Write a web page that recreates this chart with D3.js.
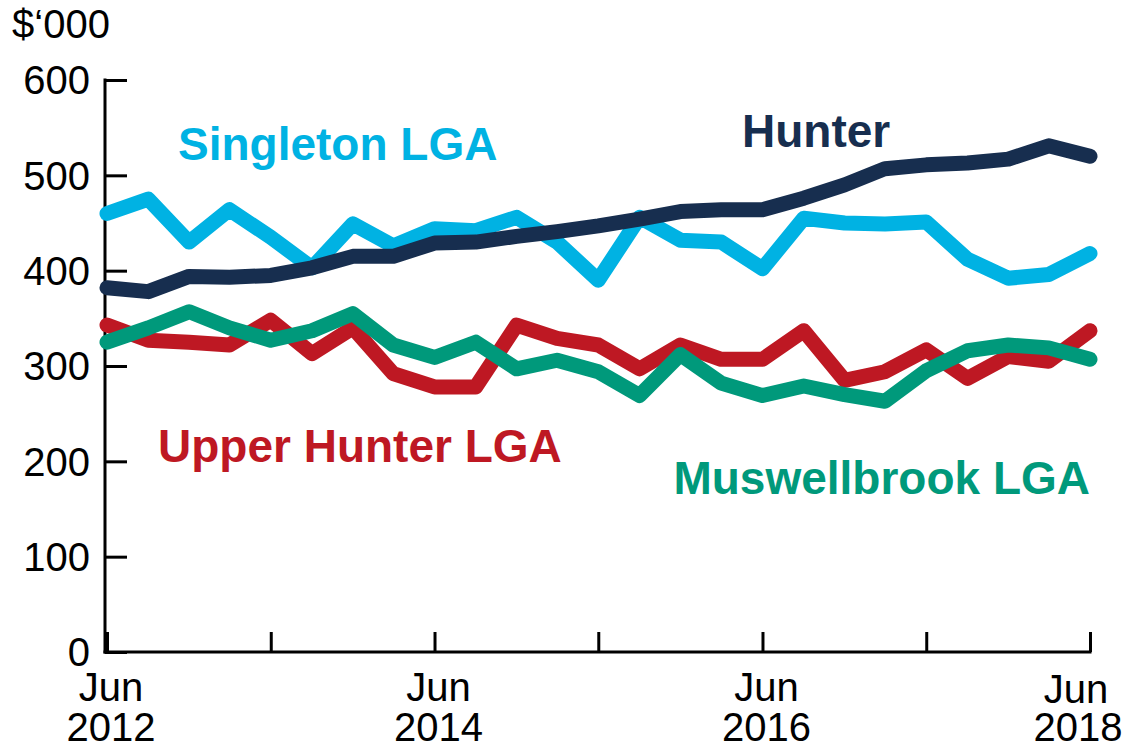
<!DOCTYPE html>
<html>
<head>
  <meta charset="utf-8">
  <title>Median house prices</title>
  <script src="https://d3js.org/d3.v7.min.js"></script>
  <style>
    body { margin: 0; background: #fff; }
    text { font-family: Arial, "Liberation Sans", sans-serif; }
  </style>
</head>
<body>
  <script>
    // quarterly, Jun 2012 .. Jun 2018
    var quarters = d3.range(25).map(function(i) { return new Date(2012, 5 + i * 3, 1); });

    var hunter      = [382, 378, 394, 393, 395, 403, 415, 415, 429, 430, 436, 441, 447, 454, 462, 464, 464, 476, 490, 507, 511, 513, 517, 531, 520];
    var singleton   = [460, 475, 430, 464, 435, 403, 449, 426, 444, 442, 456, 430, 390, 456, 432, 430, 402, 455, 450, 449, 451, 412, 392, 396, 418];
    var upperHunter = [343, 327, 325, 322, 348, 313, 340, 292, 278, 278, 343, 329, 322, 297, 322, 307, 307, 337, 285, 294, 317, 287, 310, 305, 337];
    var muswellbrook = [325, 340, 357, 340, 327, 337, 355, 322, 309, 325, 297, 306, 294, 269, 312, 282, 269, 279, 270, 263, 295, 316, 322, 319, 307];

    var yTicks = [0, 100, 200, 300, 400, 500, 600];
    var xTickYears = [2012, 2013, 2014, 2015, 2016, 2017, 2018];
    var xLabelYears = [2012, 2014, 2016, 2018];

    var series = [
      { name: 'Singleton LGA', values: singleton, color: '#00b2e3', lx: 178, ly: 143, anchor: 'start' },
      { name: 'Hunter', values: hunter, color: '#172e4f', lx: 742, ly: 130, anchor: 'start' },
      { name: 'Upper Hunter LGA', values: upperHunter, color: '#be1823', lx: 158, ly: 445, anchor: 'start' },
      { name: 'Muswellbrook LGA', values: muswellbrook, color: '#00997b', lx: 1090, ly: 477, anchor: 'end' }
    ];

    var W = 1128, H = 748;
    var plotL = 105, plotR = 1090, plotT = 80, plotB = 652;

    var svg = d3.select('body').append('svg')
      .attr('width', W)
      .attr('height', H);

    var x = d3.scaleTime()
      .domain([quarters[0], quarters[24]])
      .range([plotL + 2, plotR]);

    var y = d3.scaleLinear()
      .domain([0, 600])
      .range([plotB, plotT]);

    // y axis
    var yAxis = svg.append('g')
      .attr('transform', 'translate(' + plotL + ',0)')
      .call(d3.axisRight(y).tickValues(yTicks).tickSize(22).tickFormat(''));
    yAxis.select('.domain').remove();
    yAxis.selectAll('line').attr('stroke', '#000').attr('stroke-width', 3);

    svg.append('line')
      .attr('x1', plotL).attr('x2', plotL)
      .attr('y1', plotT - 1.5).attr('y2', plotB + 1.5)
      .attr('stroke', '#000').attr('stroke-width', 3);

    svg.selectAll('.ylab')
      .data(yTicks)
      .enter().append('text')
      .attr('class', 'ylab')
      .attr('x', 90)
      .attr('y', function(d) { return y(d); })
      .attr('dy', '0.36em')
      .attr('text-anchor', 'end')
      .attr('font-size', 40)
      .text(function(d) { return d; });

    svg.append('text')
      .attr('x', 12)
      .attr('y', 38)
      .attr('font-size', 40)
      .text('$‘000');

    // x axis
    var xAxis = svg.append('g')
      .attr('transform', 'translate(0,' + plotB + ')')
      .call(d3.axisTop(x)
        .tickValues(xTickYears.map(function(yr) { return new Date(yr, 5, 1); }))
        .tickSize(20).tickFormat(''));
    xAxis.select('.domain').remove();
    xAxis.selectAll('line').attr('stroke', '#000').attr('stroke-width', 3);

    svg.append('line')
      .attr('x1', plotL - 1.5).attr('x2', plotR + 1.5)
      .attr('y1', plotB).attr('y2', plotB)
      .attr('stroke', '#000').attr('stroke-width', 3);

    var xl = svg.selectAll('.xlab')
      .data(xLabelYears)
      .enter().append('text')
      .attr('class', 'xlab')
      .attr('text-anchor', 'middle')
      .attr('font-size', 40);
    xl.append('tspan')
      .attr('x', function(d) { return d === 2018 ? 1076 : x(new Date(d, 5, 1)) + 4; })
      .attr('y', function(d) { return d === 2018 ? 703 : 701; })
      .text('Jun');
    xl.append('tspan')
      .attr('x', function(d) { return d === 2018 ? 1078 : x(new Date(d, 5, 1)) + 4; })
      .attr('y', 741)
      .text(function(d) { return d; });

    // lines
    var line = d3.line()
      .x(function(d, i) { return x(quarters[i]); })
      .y(function(d) { return y(d); });

    svg.selectAll('.series')
      .data(series)
      .enter().append('path')
      .attr('class', 'series')
      .attr('d', function(s) { return line(s.values); })
      .attr('fill', 'none')
      .attr('stroke', function(s) { return s.color; })
      .attr('stroke-width', 15)
      .attr('stroke-linejoin', 'round')
      .attr('stroke-linecap', 'round');

    svg.selectAll('.slab')
      .data(series)
      .enter().append('text')
      .attr('class', 'slab')
      .attr('x', function(s) { return s.lx; })
      .attr('y', function(s) { return s.ly; })
      .attr('dy', '0.36em')
      .attr('text-anchor', function(s) { return s.anchor; })
      .attr('font-size', 46)
      .attr('font-weight', 'bold')
      .attr('fill', function(s) { return s.color; })
      .text(function(s) { return s.name; });
  </script>
</body>
</html>
